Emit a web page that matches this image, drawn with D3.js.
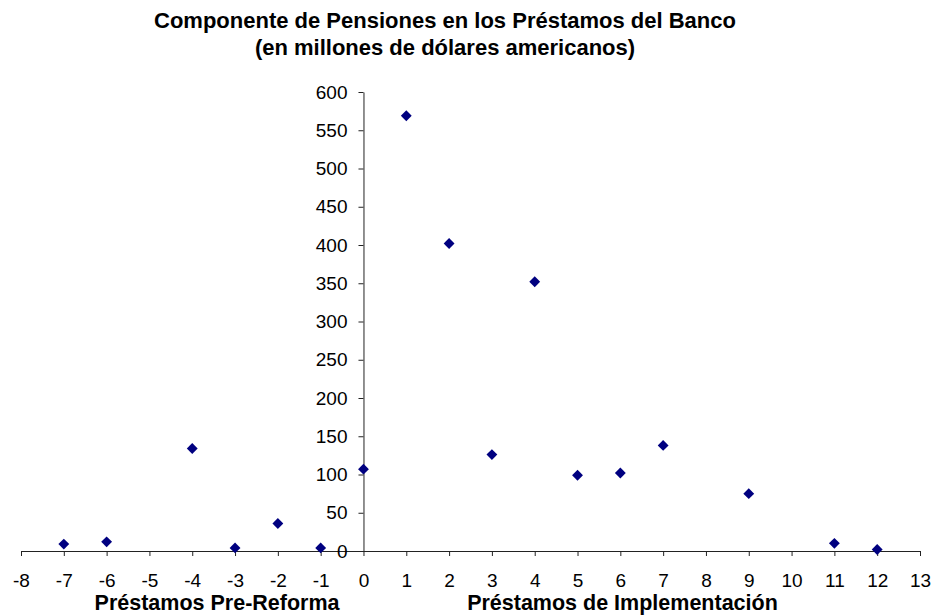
<!DOCTYPE html>
<html>
<head>
<meta charset="utf-8">
<script src="https://cdn.jsdelivr.net/npm/d3@7"></script>
<style>
body{margin:0;background:#fff;}
svg text{font-family:"Liberation Sans",Arial,sans-serif;}
</style>
</head>
<body>
<svg id="chart" width="937" height="616"></svg>
<script>
// datos
var loanIndex = [-7, -6, -4, -3, -2, -1, 0, 1, 2, 3, 4, 5, 6, 7, 9, 11, 12];
var pensionAmount = [9, 12, 134, 4, 36, 4, 107, 569, 402, 126, 352, 99, 102, 138, 75, 10, 2];
var xTicks = d3.range(-8, 14);
var yTicks = d3.range(0, 601, 50);
var titleLines = ["Componente de Pensiones en los Préstamos del Banco", "(en millones de dólares americanos)"];
var groupLabels = [{x: -3.42, t: "Préstamos Pre-Reforma"}, {x: 6.05, t: "Préstamos de Implementación"}];

var svg = d3.select("#chart");
var x = d3.scaleLinear().domain([-8, 13]).range([21, 920]);
var y = d3.scaleLinear().domain([0, 600]).range([551, 92]);

//titulo
svg.selectAll(".title").data(titleLines).enter().append("text")
   .attr("class", "title")
   .attr("x", 445).attr("y", function(d, i){ return 28 + i * 27; })
   .attr("text-anchor", "middle")
   .attr("font-size", 22).attr("font-weight", "bold")
   .text(function(d){ return d; });

//eje x (guion normal, no signo menos)
var gx = svg.append("g").attr("transform", "translate(0," + y(0) + ")")
   .call(d3.axisBottom(x).tickValues(xTicks).tickSize(5).tickSizeOuter(0).tickFormat(function(d){ return String(d); }));
gx.selectAll("text").attr("font-size", 19).attr("fill", "#000").attr("y", 36).attr("dy", 0).attr("font-family", null);

//eje y
var gy = svg.append("g").attr("transform", "translate(" + x(0) + ",0)")
   .call(d3.axisLeft(y).tickValues(yTicks).tickSize(5).tickSizeOuter(0));
gy.selectAll("text").attr("font-size", 19).attr("fill", "#000").attr("x", -16).attr("font-family", null);

svg.selectAll(".domain, .tick line").attr("stroke", "#222");

//titulos de grupo
svg.selectAll(".glabel").data(groupLabels).enter().append("text")
   .attr("class", "glabel")
   .attr("x", function(d){ return x(d.x); }).attr("y", 610)
   .attr("text-anchor", "middle")
   .attr("font-size", 21.5).attr("font-weight", "bold")
   .text(function(d){ return d.t; });

//puntos
svg.selectAll(".pt").data(loanIndex).enter().append("path")
   .attr("class", "pt")
   .attr("d", d3.symbol().type(d3.symbolDiamond2).size(75))
   .attr("transform", function(d, i){ return "translate(" + x(d) + "," + y(pensionAmount[i]) + ")"; })
   .attr("fill", "#000080");
</script>
</body>
</html>
